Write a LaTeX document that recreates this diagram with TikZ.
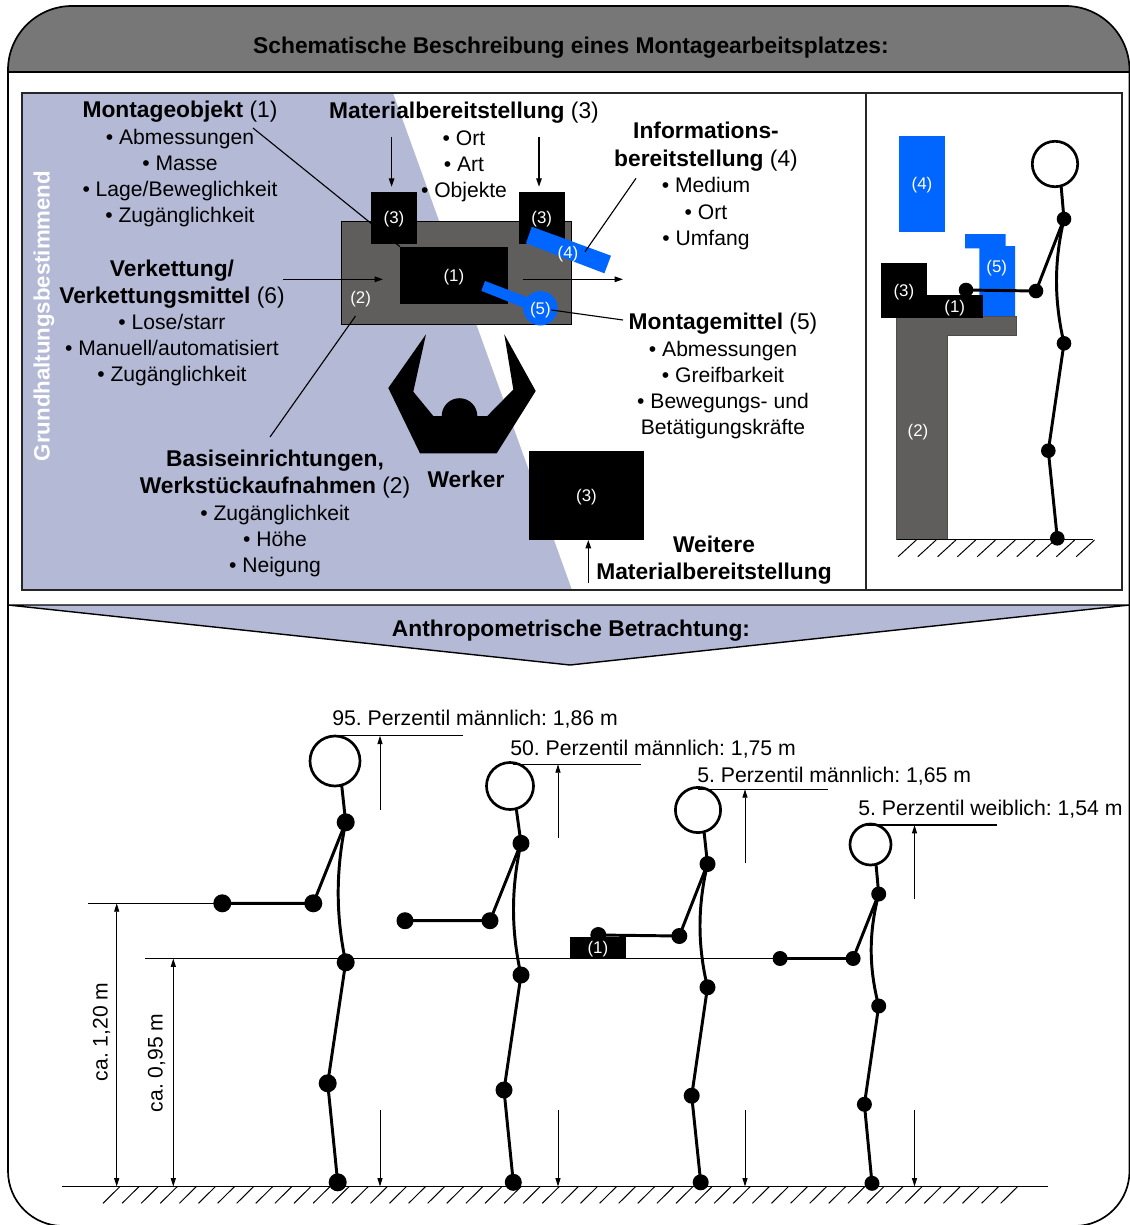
\documentclass[tikz,border=0pt]{standalone}
\usepackage{fontspec}
\setmainfont{Liberation Sans}
\usetikzlibrary{arrows.meta}
\definecolor{hdgray}{RGB}{119,119,119}
\definecolor{lavender}{RGB}{180,185,214}
\definecolor{tablegray}{RGB}{96,94,92}
\definecolor{toolblue}{RGB}{0,102,255}
\newcommand{\hdsize}{\fontsize{16.2}{18.5}\selectfont}
\newcommand{\itsize}{\fontsize{15}{18.5}\selectfont}
\frenchspacing

\begin{document}
\begin{tikzpicture}[x=0.025cm, y=-0.025cm,
    blk/.style={rectangle, fill=black, text=white, inner sep=0pt, outer sep=0pt,
                text depth=0pt, font=\fontsize{12}{14}\selectfont},
    bluebox/.style={blk, fill=toolblue},
    lbl/.style={text=white, inner sep=0pt, text depth=0pt, font=\fontsize{12}{14}\selectfont},
    txt/.style={align=center, anchor=north, inner sep=0pt, font=\itsize},
    lead/.style={line width=0.8pt},
    arr/.style={line width=0.8pt, -{Triangle[length=6pt,width=4pt]}},
    dimarr/.style={line width=0.7pt, -{Triangle[length=6pt,width=3.6pt]}},
    dimboth/.style={line width=0.7pt, {Triangle[length=6pt,width=3.6pt]}-{Triangle[length=6pt,width=3.6pt]}},
    limb/.style={line width=2.1pt, line cap=round, line join=round},
    joint/.style={circle, fill=black, inner sep=0pt, minimum size=#1},
    joint/.default={0.4cm},
    headc/.style={circle, draw, fill=white, line width=1.9pt, inner sep=0pt, minimum size=#1},
    perz/.style={anchor=west, inner sep=0pt, font=\fontsize{15.1}{18}\selectfont},
    hatch/.style={line width=0.7pt}
  ]
  \useasboundingbox (0,0) rectangle (1130,1225);

  % header band and outer frame
  \fill[hdgray] (8,72) -- (8,70) arc[start angle=180, end angle=270, radius=64]
    -- (1065.5,6) arc[start angle=270, end angle=360, radius=64] -- (1129.5,72) -- cycle;
  \draw[line width=1.2pt] (8,72) -- (8,70) arc[start angle=180, end angle=270, radius=64]
    -- (1065.5,6) arc[start angle=270, end angle=360, radius=64]
    -- (1129.5,1171) arc[start angle=0, end angle=90, radius=55]
    -- (63,1226) arc[start angle=90, end angle=180, radius=55] -- cycle;
  \draw[line width=1.2pt] (8,72) -- (1129.5,72);
  \node[font=\hdsize\bfseries] (title) at (571,48) {Schematische Beschreibung eines Montagearbeitsplatzes:};

  % top view of the workplace
  \fill[lavender] (22,93) -- (393,93) -- (572,590) -- (22,590) -- cycle;
  \draw[line width=1pt, black!85] (22,93) rectangle (1122,590);
  \draw[line width=1pt, black!85] (866,93) -- (866,590);
  \node[rotate=90, text=white, font=\fontsize{15.8}{18}\selectfont\bfseries] (grund) at (44,316) {Grundhaltungsbestimmend};

  \node[txt] (montobj) at (180,101.2) {{\hdsize\textbf{Montageobjekt} (1)}\\ • Abmessungen\\ • Masse\\ • Lage/Beweglichkeit\\ • Zugänglichkeit};
  \node[txt] (matbereit) at (464,102.2) {{\hdsize\textbf{Materialbereitstellung} (3)}\\ • Ort\\ • Art\\ • Objekte};
  \node[txt] (infobereit) at (706,122.2) {{\hdsize\textbf{Informations-}}\\[1.4pt] {\hdsize\textbf{bereitstellung} (4)}\\ • Medium\\ • Ort\\ • Umfang};
  \node[txt] (verkett) at (172,260.2) {{\hdsize\textbf{Verkettung/}}\\ {\hdsize\textbf{Verkettungsmittel} (6)}\\ • Lose/starr\\ • Manuell/automatisiert\\ • Zugänglichkeit};
  \node[txt] (basis) at (275,450.2) {{\hdsize\textbf{Basiseinrichtungen,}}\\[0.7pt] {\hdsize\textbf{Werkstückaufnahmen} (2)}\\ • Zugänglichkeit\\ • Höhe\\ • Neigung};
  \node[txt] (montmittel) at (723,313.2) {{\hdsize\textbf{Montagemittel} (5)}\\ • Abmessungen\\ • Greifbarkeit\\ • Bewegungs- und\\ Betätigungskräfte};
  \node[txt] (weitere) at (714,536.2) {{\hdsize\textbf{Weitere}}\\[0.7pt] {\hdsize\textbf{Materialbereitstellung}}};
  \node[font=\hdsize\bfseries] (werker) at (466,479) {Werker};

  \node[rectangle, fill=tablegray, draw=black, line width=0.5pt, inner sep=0pt,
        minimum width=5.75cm, minimum height=2.56cm] (table) at (456.35,272.85) {};
  \node[lbl] (table-lbl) at (360.6,297) {(2)};

  \coordinate (mo-lead) at (253,128);
  \draw[lead] (mo-lead) -- (400,246.7);
  \node[blk, minimum width=1.153cm, minimum height=1.308cm] (box3a) at (394,217.85) {(3)};
  \node[blk, minimum width=1.14cm, minimum height=1.308cm] (box3b) at (541.75,217.85) {(3)};
  \node[blk, minimum width=2.69cm, minimum height=1.43cm] (box1) at (453.85,275.35) {(1)};
  \node[blk, minimum width=2.875cm, minimum height=2.225cm] (box3c) at (586.5,495.5) {(3)};

  % information display and tool
  \fill[toolblue] (531.8,226.7) -- (611,255.7) -- (604.4,273.3) -- (525.9,243.3) -- cycle;
  \node[lbl] (bar4) at (568,252) {(4)};
  \fill[toolblue] (485,281) -- (542.5,303) -- (538.3,313.6) -- (481.3,290.8) -- cycle;
  \node[circle, fill=toolblue, text=white, inner sep=0pt, minimum size=0.86cm, text depth=0pt,
        font=\fontsize{12}{14}\selectfont] (tool5) at (540.4,308.3) {(5)};

  \coordinate (ib-lead) at (636,178.3);
  \coordinate (bar4-tip) at (585,251.7);
  \draw[lead] (ib-lead) -- (bar4-tip);
  \coordinate (mm-lead) at (623,320);
  \coordinate (tool5-tip) at (551.4,310);
  \draw[lead] (mm-lead) -- (tool5-tip);
  \coordinate (bs-lead) at (270,437);
  \coordinate (table-tip) at (355.5,316);
  \draw[lead] (bs-lead) -- (table-tip);

  \coordinate (vk-start) at (283,279.3);
  \coordinate (vk-end) at (383,279.3);
  \draw[arr] (vk-start) -- (vk-end);
  \coordinate (out-start) at (522.5,279.3);
  \coordinate (out-end) at (623,279.3);
  \draw[arr] (out-start) -- (out-end);
  \coordinate (mat-l) at (391.6,136.7);
  \coordinate (mat-r) at (539,136.7);
  \draw[arr] (mat-l) -- (391.6,186.7);
  \draw[arr] (mat-r) -- (539,186.7);
  \coordinate (wm-start) at (588.3,583);
  \draw[arr] (wm-start) -- (wm-start |- box3c.south);

  % worker seen from above
  \fill (426,334.3) -- (388.3,388) -- (420,453.3) -- (496.7,453.3) -- (535.7,391)
    -- (504.3,334.3) -- (513.3,389.5) -- (487.3,416) -- (477.3,416)
    arc[start angle=0, end angle=-180, radius=17.8] -- (433.3,416) -- (413.3,391.7) -- cycle;

  % side view
  \node[bluebox, minimum width=1.15cm, minimum height=2.39cm] (side4) at (922,183.85) {(4)};
  \fill[toolblue] (965,234) -- (1005.7,234) -- (1005.7,246) -- (1015,246) -- (1015,316.7)
    -- (979.3,316.7) -- (979.3,248.3) -- (965,248.3) -- cycle;
  \node[lbl] (side5) at (996.7,266) {(5)};
  \filldraw[fill=tablegray, draw=black!70, line width=0.5pt] (896.7,316.7) -- (1016.7,316.7)
    -- (1016.7,335) -- (947.7,335) -- (947.7,539.3) -- (896.7,539.3) -- cycle;
  \node[lbl] (side2) at (918,430) {(2)};
  \node[blk, minimum width=1.14cm, minimum height=1.36cm] (side3) at (903.85,290.5) {(3)};
  \node[blk, minimum width=1.4cm, minimum height=0.567cm] (side1) at (954.7,306.35) {(1)};

  \coordinate (sfloor-l) at (896.7,539.3);
  \coordinate (sfloor-r) at (1093.3,539.3);
  \draw[line width=1pt] (sfloor-l) -- (sfloor-r);
  \foreach \i in {0,...,9}
    \draw[hatch] ({898+19.8*\i},556.7) -- ++(18.3,-16.7);

  \node[headc=1.135cm] (e-head) at (1055,164) {};
  \node[joint=0.365cm] (e-sh) at (1064,219) {};
  \node[joint=0.365cm] (e-el) at (1036,291) {};
  \node[joint=0.365cm] (e-hd) at (966,290) {};
  \node[joint=0.365cm] (e-hp) at (1064,343.3) {};
  \node[joint=0.365cm] (e-kn) at (1048.3,450.7) {};
  \node[joint=0.365cm] (e-ft) at (1057.3,538.3) {};
  \draw[limb] (e-head.-75) -- (e-sh.center);
  \draw[limb] (e-sh.center) -- (e-el.center) -- (e-hd.center);
  \draw[limb] (e-sh.center) .. controls (1054,262) and (1054,300) .. (e-hp.center)
    -- (e-kn.center) -- (e-ft.center);

  % anthropometric part
  \filldraw[fill=lavender, draw=black, line width=1pt] (8,605) -- (1129.5,605) -- (570,665) -- cycle;
  \node[font=\hdsize\bfseries] (anthro) at (571,631) {Anthropometrische Betrachtung:};

  \coordinate (floor-l) at (62,1186.5);
  \coordinate (floor-r) at (1048,1186.5);
  \draw[line width=1pt] (floor-l) -- (floor-r);
  \foreach \i in {0,...,47}
    \draw[hatch] ({103+19.1*\i},1203.3) -- ++(17,-16.8);

  % 95. percentile
  \node[headc=1.25cm] (a-head) at (335,761) {};
  \node[joint=0.45cm] (a-sh) at (345.7,822.3) {};
  \node[joint=0.45cm] (a-el) at (313.3,903.3) {};
  \node[joint=0.45cm] (a-hd) at (222.3,903.3) {};
  \node[joint=0.45cm] (a-hp) at (345.7,962.3) {};
  \node[joint=0.45cm] (a-kn) at (327.7,1083.3) {};
  \node[joint=0.45cm] (a-ft) at (337.7,1182.3) {};
  \draw[limb] (a-head.-75) -- (a-sh.center);
  \draw[limb] (a-sh.center) -- (a-el.center) -- (a-hd.center);
  \draw[limb] (a-sh.center) .. controls (335.7,871) and (335.7,915) .. (a-hp.center)
    -- (a-kn.center) -- (a-ft.center);

  % 50. percentile
  \node[headc=1.175cm] (b-head) at (510,786) {};
  \node[joint=0.425cm] (b-sh) at (521,843.3) {};
  \node[joint=0.425cm] (b-el) at (490,920.7) {};
  \node[joint=0.425cm] (b-hd) at (405,920.7) {};
  \node[joint=0.425cm] (b-hp) at (521,975) {};
  \node[joint=0.425cm] (b-kn) at (504,1090) {};
  \node[joint=0.425cm] (b-ft) at (513.3,1182.3) {};
  \draw[limb] (b-head.-75) -- (b-sh.center);
  \draw[limb] (b-sh.center) -- (b-el.center) -- (b-hd.center);
  \draw[limb] (b-sh.center) .. controls (511,889) and (511,930) .. (b-hp.center)
    -- (b-kn.center) -- (b-ft.center);

  % 5. percentile, male
  \node[headc=1.13cm] (c-head) at (698,810) {};
  \node[joint=0.4cm] (c-sh) at (707.5,864) {};
  \node[joint=0.4cm] (c-el) at (679.3,936) {};
  \node[joint=0.4cm] (c-hd) at (598.3,935) {};
  \node[joint=0.4cm] (c-hp) at (707.5,987.3) {};
  \node[joint=0.4cm] (c-kn) at (691.7,1095.7) {};
  \node[joint=0.4cm] (c-ft) at (700.7,1182.3) {};
  \draw[limb] (c-head.-75) -- (c-sh.center);
  \draw[limb] (c-sh.center) -- (c-el.center) -- (c-hd.center);
  \draw[limb] (c-sh.center) .. controls (697.5,907) and (697.5,945) .. (c-hp.center)
    -- (c-kn.center) -- (c-ft.center);
  \node[blk, minimum width=1.395cm, minimum height=0.54cm] (obj1) at (597.9,947.5) {(1)};

  % 5. percentile, female
  \node[headc=1.025cm] (d-head) at (870.5,844.5) {};
  \node[joint=0.375cm] (d-sh) at (878.7,894) {};
  \node[joint=0.375cm] (d-el) at (853.1,958.5) {};
  \node[joint=0.375cm] (d-hd) at (780.1,958.5) {};
  \node[joint=0.375cm] (d-hp) at (878.7,1006) {};
  \node[joint=0.375cm] (d-kn) at (864.4,1104.3) {};
  \node[joint=0.375cm] (d-ft) at (872,1183.3) {};
  \draw[limb] (d-head.-75) -- (d-sh.center);
  \draw[limb] (d-sh.center) -- (d-el.center) -- (d-hd.center);
  \draw[limb] (d-sh.center) .. controls (868.7,933) and (868.7,967) .. (d-hp.center)
    -- (d-kn.center) -- (d-ft.center);

  % working heights
  \coordinate (lvl-hi) at (88,903.3);
  \draw[lead] (lvl-hi) -- (a-hd.center);
  \coordinate (lvl-lo) at (145,958.5);
  \draw[lead] (lvl-lo) -- (d-hd.center);
  \coordinate (d120-top) at (116.7,903.3);
  \draw[dimboth] (d120-top) -- (d120-top |- floor-l);
  \node[rotate=90, font=\fontsize{15}{18}\selectfont] (d120-lbl) at (101.7,1032) {ca. 1,20 m};
  \coordinate (d95-top) at (173.3,958.5);
  \draw[dimboth] (d95-top) -- (d95-top |- floor-l);
  \node[rotate=90, font=\fontsize{15}{18}\selectfont] (d95-lbl) at (156.7,1063) {ca. 0,95 m};

  % body heights
  \node[perz] (a-lbl) at (332,719) {95. Perzentil männlich: 1,86 m};
  \coordinate (a-tl) at (333,735.7);
  \draw[lead] (a-tl) -- (463,735.7);
  \coordinate (a-up) at (380,810);
  \coordinate (a-dn) at (380,1110);
  \draw[dimarr] (a-up) -- (a-up |- a-tl);
  \draw[dimarr] (a-dn) -- (a-dn |- floor-l);

  \node[perz] (b-lbl) at (510,749) {50. Perzentil männlich: 1,75 m};
  \coordinate (b-tl) at (513,764.3);
  \draw[lead] (b-tl) -- (641,764.3);
  \coordinate (b-up) at (558,838);
  \coordinate (b-dn) at (558,1110);
  \draw[dimarr] (b-up) -- (b-up |- b-tl);
  \draw[dimarr] (b-dn) -- (b-dn |- floor-l);

  \node[perz] (c-lbl) at (697,776) {5. Perzentil männlich: 1,65 m};
  \coordinate (c-tl) at (698,789.3);
  \draw[lead] (c-tl) -- (828,789.3);
  \coordinate (c-up) at (745,863);
  \coordinate (c-dn) at (745,1110);
  \draw[dimarr] (c-up) -- (c-up |- c-tl);
  \draw[dimarr] (c-dn) -- (c-dn |- floor-l);

  \node[perz] (d-lbl) at (858,809) {5. Perzentil weiblich: 1,54 m};
  \coordinate (d-tl) at (867.4,825);
  \draw[lead] (d-tl) -- (997.3,825);
  \coordinate (d-up) at (914.5,899);
  \coordinate (d-dn) at (914.5,1110);
  \draw[dimarr] (d-up) -- (d-up |- d-tl);
  \draw[dimarr] (d-dn) -- (d-dn |- floor-l);
\end{tikzpicture}
\end{document}
